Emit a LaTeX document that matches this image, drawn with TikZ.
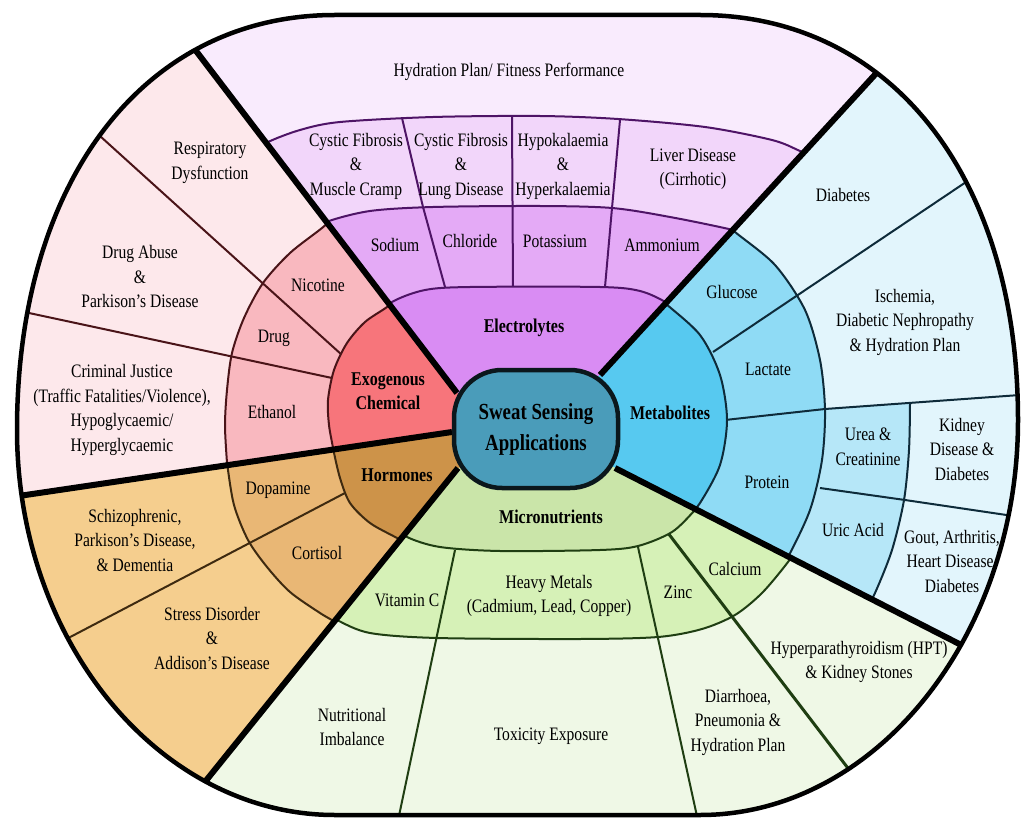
\documentclass[tikz,border=0pt]{standalone}
\usepackage{fontspec}
\setmainfont{Liberation Serif}[FakeStretch=0.82]
\usetikzlibrary{calc}
\definecolor{HubTeal}{HTML}{4A9CBA}
\definecolor{ElecCat}{HTML}{D98CF3}
\definecolor{ElecMin}{HTML}{E4AAF6}
\definecolor{ElecDis}{HTML}{F2D6FA}
\definecolor{ElecBand}{HTML}{F9EBFD}
\definecolor{ElecLine}{HTML}{4E1466}
\definecolor{MetCat}{HTML}{57C9F0}
\definecolor{MetMin}{HTML}{8FDBF5}
\definecolor{MetUrea}{HTML}{B6E7F8}
\definecolor{MetBand}{HTML}{E2F5FC}
\definecolor{MetLine}{HTML}{0E2B3A}
\definecolor{MicCat}{HTML}{CAE5A9}
\definecolor{MicMin}{HTML}{D6F1B7}
\definecolor{MicBand}{HTML}{EFF8E6}
\definecolor{MicLine}{HTML}{1F3E12}
\definecolor{HorCat}{HTML}{CD9349}
\definecolor{HorMin}{HTML}{E9B775}
\definecolor{HorBand}{HTML}{F5CE8E}
\definecolor{HorLine}{HTML}{3E2A10}
\definecolor{ExoCat}{HTML}{F7757B}
\definecolor{ExoMin}{HTML}{F9B8BF}
\definecolor{ExoBand}{HTML}{FDE8EB}
\definecolor{ExoLine}{HTML}{4A1418}

% outline of the wheel (pixel grid, y pointing down)
\def\outerpath{(335,15) -- (700,15) .. controls (891,15) and (1018,177) .. (1018,420)
    .. controls (1018,637) and (875,815) .. (700,815) -- (335,815)
    .. controls (160,815) and (17,642) .. (17,430)
    .. controls (17,181) and (144,15) .. (335,15) -- cycle}
% ring boundaries, one set per sector
\def\elecCat{plot[smooth] coordinates {(370,322) (392,302) (425,290) (470,287) (600,287) (640,291) (667,303) (688,320)}}
\def\elecMin{plot[smooth] coordinates {(300,236) (326,222) (370,211) (433,207) (540,206) (612,208) (670,217) (733,230) (765,240)}}
\def\elecDis{plot[smooth] coordinates {(240,160) (266,143) (300,130) (340,122) (433,117) (540,116) (618,119) (705,127) (772,140) (800,151) (830,165)}}
\def\metCat{plot[smooth] coordinates {(645,285) (665,303) (700,335) (720,375) (727,420) (720,465) (700,503) (685,520)}}
\def\metMin{plot[smooth] coordinates {(712,212) (735,232) (775,265) (805,310) (820,360) (825,410) (822,460) (810,510) (788,557) (775,575)}}
\def\metUrea{plot[smooth] coordinates {(910,403) (909,450) (904,500) (892,550) (875,593) (860,622)}}
\def\micCat{plot[smooth] coordinates {(388,522) (407,537) (440,547) (500,551) (600,550) (638,546) (672,532) (695,510) (712,490)}}
\def\micMin{plot[smooth] coordinates {(318,608) (337,620) (370,633) (437,638) (580,639) (658,637) (702,629) (735,615) (762,593) (788,562) (802,540)}}
\def\horCat{plot[smooth] coordinates {(329,425) (333,448) (340,478) (350,503) (370,523) (397,538) (418,550)}}
\def\horMin{plot[smooth] coordinates {(224,440) (227,463) (234,505) (248,540) (267,567) (290,592) (320,613) (337,623) (355,635)}}
\def\exoCat{plot[smooth] coordinates {(405,292) (387,307) (365,322) (347,343) (334,370) (328,400) (329,425) (333,448) (336,468)}}
\def\exoMin{plot[smooth] coordinates {(340,212) (322,228) (290,253) (263,283) (244,318) (232,353) (227,390) (225,425) (227,463) (229,485)}}

\begin{document}
\begin{tikzpicture}[
        x=1pt, y=-1pt,
        lbl/.style={font=\fontsize{19}{24.5}\selectfont, align=center, inner sep=0pt},
        cat/.style={font=\fontsize{19.5}{24.5}\selectfont\bfseries, align=center, inner sep=0pt},
        sep/.style={line width=6pt, black},
        ring/.style={line width=2pt},
        hub/.style={
            rectangle, rounded corners=48pt, minimum width=164pt, minimum height=118pt,
            draw=black!85!HubTeal, line width=4.5pt, fill=HubTeal, align=center,
            font=\fontsize{23}{31}\selectfont\bfseries
        }
    ]
    \useasboundingbox (0,0) rectangle (1025,818);

    % Separators
    \coordinate (C) at (536,429);
    \coordinate (s1a) at (457,393); \coordinate (s1b) at (190,43);
    \coordinate (s2a) at (600,375); \coordinate (s2b) at (882,67);
    \coordinate (s3a) at (615,468); \coordinate (s3b) at (975,652);
    \coordinate (s4a) at (458,468); \coordinate (s4b) at (192,798);
    \coordinate (s5a) at (452,432); \coordinate (s5b) at (12,497);
    \coordinate (f1) at ($(s1a)!4!(s1b)$);
    \coordinate (f2) at ($(s2a)!4!(s2b)$);
    \coordinate (f3) at ($(s3a)!4!(s3b)$);
    \coordinate (f4) at ($(s4a)!4!(s4b)$);
    \coordinate (f5) at ($(s5a)!4!(s5b)$);

    % Electrolytes
    \begin{scope}
        \clip \outerpath;
        \clip (C) -- (s1a) -- (f1) -- (f2) -- (s2a) -- cycle;
        \fill[ElecBand] (0,0) rectangle (1025,818);
        \fill[ElecDis] \elecDis -- (850,520) -- (220,520) -- cycle;
        \fill[ElecMin] \elecMin -- (850,520) -- (220,520) -- cycle;
        \draw[ring, ElecLine] (402,118) -- (423,207) -- (445,287);
        \draw[ring, ElecLine] (512,117) -- (513,287);
        \draw[ring, ElecLine] (620,120) -- (612,208) -- (605,287);
        \fill[ElecCat] \elecCat -- (850,520) -- (220,520) -- cycle;
        \draw[ring, ElecLine] \elecDis \elecMin \elecCat;
    \end{scope}

    % Metabolites
    \begin{scope}
        \clip \outerpath;
        \clip (C) -- (s2a) -- (f2) -- (f3) -- (s3a) -- cycle;
        \fill[MetBand] (0,0) rectangle (1025,818);
        \fill[MetUrea] \metUrea -- (600,640) -- (600,430) -- (725,420) -- (825,409) -- cycle;
        \fill[MetMin] \metMin -- (520,600) -- (520,250) -- cycle;
        \draw[ring, MetLine] (713,352) -- (975,176);
        \draw[ring, MetLine] (725,420) -- (825,409) -- (1020,395);
        \draw[ring, MetLine] (820,488) -- (905,500) -- (1020,517);
        \fill[MetCat] \metCat -- (520,600) -- (520,250) -- cycle;
        \draw[ring, MetLine] \metUrea \metMin \metCat;
    \end{scope}

    % Micronutrients
    \begin{scope}
        \clip \outerpath;
        \clip (C) -- (s3a) -- (f3) -- (f4) -- (s4a) -- cycle;
        \fill[MicBand] (0,0) rectangle (1025,818);
        \fill[MicMin] \micMin -- (820,400) -- (300,400) -- cycle;
        \draw[ring, MicLine] (455,550) -- (396,830);
        \draw[ring, MicLine] (638,547) -- (700,830);
        \draw[ring, MicLine, line width=3pt] (668,533) -- (870,797);
        \fill[MicCat] \micCat -- (820,400) -- (300,400) -- cycle;
        \draw[ring, MicLine] \micMin \micCat;
    \end{scope}

    % Hormones
    \begin{scope}
        \clip \outerpath;
        \clip (C) -- (s4a) -- (f4) -- (f5) -- (s5a) -- cycle;
        \fill[HorBand] (0,0) rectangle (1025,818);
        \fill[HorMin] \horMin -- (540,560) -- (540,420) -- cycle;
        \draw[ring, HorLine] (345,493) -- (55,645);
        \fill[HorCat] \horCat -- (540,560) -- (540,420) -- cycle;
        \draw[ring, HorLine] \horMin \horCat;
    \end{scope}

    % Exogenous chemical
    \begin{scope}
        \clip \outerpath;
        \clip (C) -- (s5a) -- (f5) -- (f1) -- (s1a) -- cycle;
        \fill[ExoBand] (0,0) rectangle (1025,818);
        \fill[ExoMin] \exoMin -- (540,490) -- (540,280) -- cycle;
        \draw[ring, ExoLine] (342,355) -- (90,127);
        \draw[ring, ExoLine] (332,378) -- (15,310);
        \fill[ExoCat] \exoCat -- (540,490) -- (540,280) -- cycle;
        \draw[ring, ExoLine] \exoMin \exoCat;
    \end{scope}

    \begin{scope}
        \clip \outerpath;
        \draw[sep] (s1a) -- (s1b);
        \draw[sep] (s2a) -- (s2b);
        \draw[sep] (s3a) -- (s3b);
        \draw[sep] (s4a) -- (s4b);
        \draw[sep] (s5a) -- (s5b);
    \end{scope}
    \draw[line width=4.5pt] \outerpath;

    % Hub
    \node[hub] (hub) at (C) {Sweat Sensing\\Applications};

    % Electrolytes labels
    \node[cat] (electrolytes) at (524,328) {Electrolytes};
    \node[lbl] (sodium) at (395,245) {Sodium};
    \node[lbl] (chloride) at (470,241) {Chloride};
    \node[lbl] (potassium) at (555,241) {Potassium};
    \node[lbl] (ammonium) at (662,245) {Ammonium};
    \node[lbl] (cfMuscle) at (356,166) {Cystic Fibrosis\\\&\\Muscle Cramp};
    \node[lbl] (cfLung) at (461,166) {Cystic Fibrosis\\\&\\Lung Disease};
    \node[lbl] (kalaemia) at (563,166) {Hypokalaemia\\\&\\Hyperkalaemia};
    \node[lbl] (liver) at (693,169) {Liver Disease\\(Cirrhotic)};
    \node[lbl] (hydration) at (509,72) {Hydration Plan/ Fitness Performance};

    % Exogenous labels
    \node[cat] (exogenous) at (388,391) {Exogenous\\Chemical};
    \node[lbl] (nicotine) at (318,285) {Nicotine};
    \node[lbl] (drug) at (274,338) {Drug};
    \node[lbl] (ethanol) at (272,412) {Ethanol};
    \node[lbl] (respiratory) at (210,163) {Respiratory\\Dysfunction};
    \node[lbl] (drugAbuse) at (140,277) {Drug Abuse\\\&\\Parkison’s Disease};
    \node[lbl] (criminal) at (122,410) {Criminal Justice\\(Traffic Fatalities/Violence),\\Hypoglycaemic/\\Hyperglycaemic};

    % Hormones labels
    \node[cat] (hormones) at (397,475) {Hormones};
    \node[lbl] (dopamine) at (278,490) {Dopamine};
    \node[lbl] (cortisol) at (317,553) {Cortisol};
    \node[lbl] (schizo) at (135,540) {Schizophrenic,\\Parkison’s Disease,\\\& Dementia};
    \node[lbl] (stress) at (212,638) {Stress Disorder\\\&\\Addison’s Disease};

    % Micronutrients labels
    \node[cat] (micro) at (551,517) {Micronutrients};
    \node[lbl] (vitaminC) at (407,600) {Vitamin C};
    \node[lbl] (metals) at (549,596) {Heavy Metals\\(Cadmium, Lead, Copper)};
    \node[lbl] (zinc) at (678,592) {Zinc};
    \node[lbl] (calcium) at (735,569) {Calcium};
    \node[lbl] (nutrition) at (352,727) {Nutritional\\Imbalance};
    \node[lbl] (toxicity) at (551,736) {Toxicity Exposure};
    \node[lbl] (diarrhoea) at (738,722) {Diarrhoea,\\Pneumonia \&\\Hydration Plan};
    \node[lbl] (hpt) at (859,662) {Hyperparathyroidism (HPT)\\\& Kidney Stones};

    % Metabolites labels
    \node[cat] (metabolites) at (670,413) {Metabolites};
    \node[lbl] (glucose) at (732,292) {Glucose};
    \node[lbl] (lactate) at (768,369) {Lactate};
    \node[lbl] (protein) at (767,482) {Protein};
    \node[lbl] (diabetes) at (843,195) {Diabetes};
    \node[lbl] (ischemia) at (905,322) {Ischemia,\\Diabetic Nephropathy\\\& Hydration Plan};
    \node[lbl] (urea) at (868,447) {Urea \&\\Creatinine};
    \node[lbl] (kidney) at (962,449) {Kidney\\Disease \&\\Diabetes};
    \node[lbl] (uric) at (853,530) {Uric Acid};
    \node[lbl] (gout) at (952,561) {Gout, Arthritis,\\Heart Disease,\\Diabetes};

\end{tikzpicture}
\end{document}
